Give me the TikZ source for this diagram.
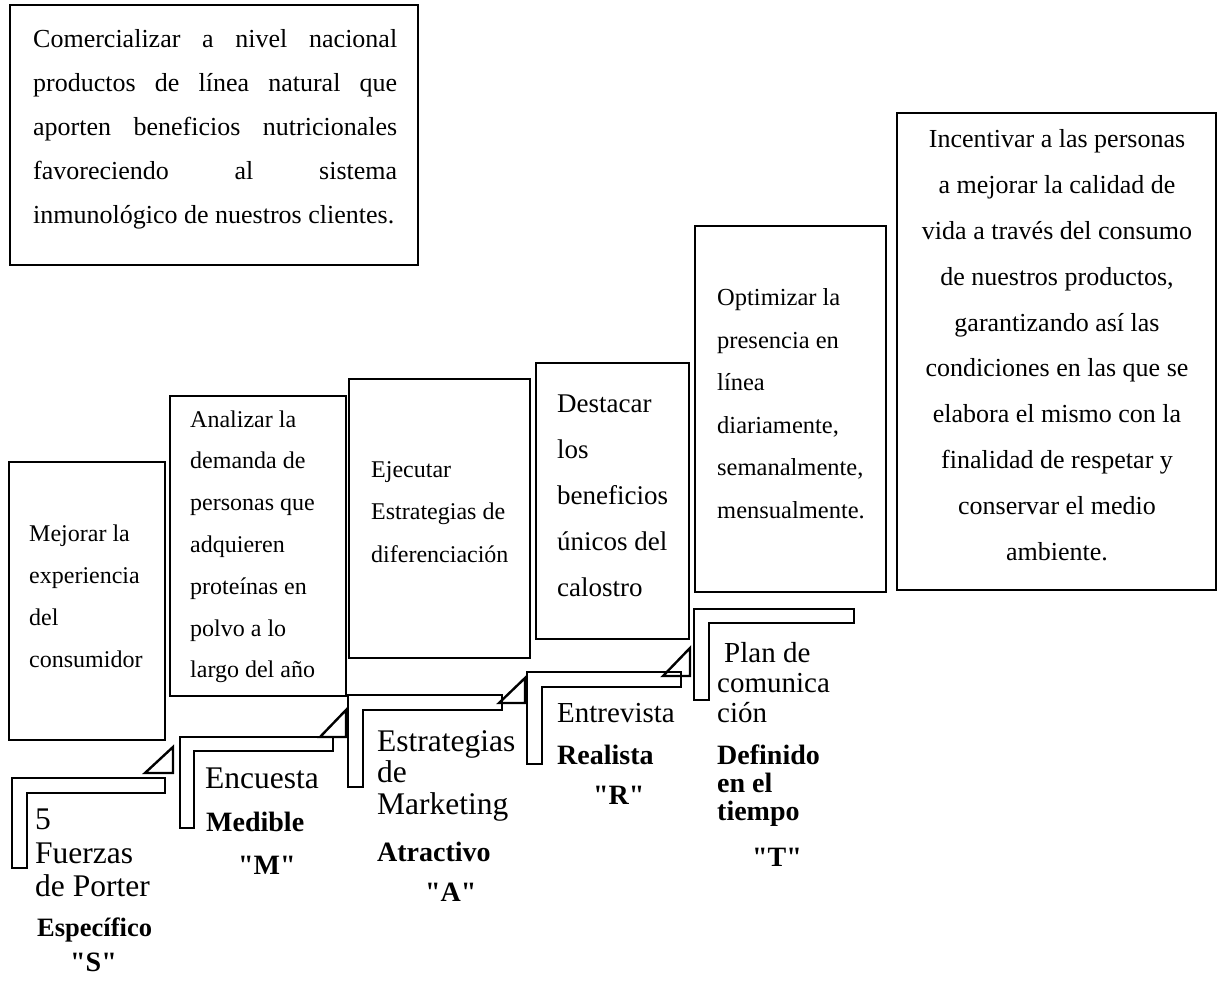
\documentclass[tikz,border=0pt]{standalone}
\usepackage{fontspec}
\setmainfont{Liberation Serif}[Ligatures=TeXOff]
\begin{document}
\begin{tikzpicture}[x=1pt,y=-1pt]
\useasboundingbox[fill=white] (0,0) rectangle (1218,981);
\tikzset{
  box/.style={draw, line width=2pt, anchor=north west, inner sep=0pt, outer sep=0pt},
  band/.style={draw, line width=2.4pt, line join=miter},
  ln/.style={anchor=base west, inner sep=0pt},
  lnc/.style={anchor=base, inner sep=0pt},
  fa/.style={font=\fontsize{26}{30}\selectfont},
  fd/.style={font=\fontsize{27}{30}\selectfont},
  fb/.style={font=\fontsize{24}{28}\selectfont},
  fo/.style={font=\fontsize{24.5}{28}\selectfont},
  fl/.style={font=\fontsize{31.5}{36}\selectfont},
  fm/.style={font=\fontsize{29}{34}\selectfont},
  fbold/.style={font=\fontsize{28}{32}\selectfont\bfseries},
  fbolds/.style={font=\fontsize{26.5}{30}\selectfont\bfseries},
}
% boxes
\node[box, minimum width=408pt, minimum height=260pt] (goal) at (10,5) {};
\node[box, minimum width=319pt, minimum height=477pt] (vision) at (897,113) {};
\node[box, minimum width=191pt, minimum height=366pt] (bopt) at (695,226) {};
\node[box, minimum width=153pt, minimum height=276pt] (bdes) at (536,363) {};
\node[box, minimum width=181pt, minimum height=279pt] (beje) at (349,379) {};
\node[box, minimum width=176pt, minimum height=300pt] (bana) at (170,396) {};
\node[box, minimum width=156pt, minimum height=278pt] (bmej) at (9,462) {};

% goal text (justified)
\node[ln,fa] (g1) at (33,48) {\makebox[364pt][s]{Comercializar a nivel nacional}};
\node[ln,fa] (g2) at (33,92) {\makebox[364pt][s]{productos de línea natural que}};
\node[ln,fa] (g3) at (33,136) {\makebox[364pt][s]{aporten beneficios nutricionales}};
\node[ln,fa] (g4) at (33,180) {\makebox[364pt][s]{favoreciendo al sistema}};
\node[ln,fa] (g5) at (33,224) {inmunológico de nuestros clientes.};

% vision text (centered)
\foreach \t [count=\i from 0] in {Incentivar a las personas, a mejorar la calidad de, vida a través del consumo, {de nuestros productos,}, garantizando así las, condiciones en las que se, elabora el mismo con la, finalidad de respetar y, conservar el medio, ambiente.}
  \node[lnc,fa] (v\i) at (1057,148+45.8*\i) {\t};

% Mejorar
\foreach \t [count=\i from 0] in {Mejorar la, experiencia, del, consumidor}
  \node[ln,fb] (m\i) at (29,541+42*\i) {\t};
% Analizar
\foreach \t [count=\i from 0] in {Analizar la, demanda de, personas que, adquieren, proteínas en, polvo a lo, largo del año}
  \node[ln,fb] (a\i) at (190,427+41.8*\i) {\t};
% Ejecutar
\foreach \t [count=\i from 0] in {Ejecutar, Estrategias de, diferenciación}
  \node[ln,fb] (e\i) at (371,477+42.5*\i) {\t};
% Destacar
\foreach \t [count=\i from 0] in {Destacar, los, beneficios, únicos del, calostro}
  \node[ln,fd] (d\i) at (557,412+46*\i) {\t};
% Optimizar
\foreach \t [count=\i from 0] in {Optimizar la, presencia en, línea, {diariamente,}, {semanalmente,}, mensualmente.}
  \node[ln,fo] (o\i) at (717,306+42.4*\i) {\t};

% bent arrows
\draw[band] (12,868) -- (12,778) -- (165,778) -- (165,793) -- (27,793) -- (27,868) -- cycle;
\draw[band] (145,773) -- (173,773) -- (173,747) -- cycle;
\draw[band] (180,828) -- (180,737) -- (333,737) -- (333,751) -- (194,751) -- (194,828) -- cycle;
\draw[band] (320,737) -- (346,737) -- (346,710) -- cycle;
\draw[band] (348,787) -- (348,695) -- (502,695) -- (502,710) -- (363,710) -- (363,787) -- cycle;
\draw[band] (499,703) -- (525,703) -- (525,678) -- cycle;
\draw[band] (527,764) -- (527,672) -- (681,672) -- (681,687) -- (542,687) -- (542,764) -- cycle;
\draw[band] (663,676) -- (690,676) -- (690,648) -- cycle;
\draw[band] (694,700) -- (694,609) -- (854,609) -- (854,623) -- (709,623) -- (709,700) -- cycle;

% labels S
\node[ln,fl] (s1) at (35,829) {5};
\node[ln,fl] (s2) at (35,863) {Fuerzas};
\node[ln,fl] (s3) at (35,896) {de Porter};
\node[ln,fbolds] (s4) at (37,936) {Específico};
\node[ln,fbold] (s5) at (70,971) {"S"};
% labels M
\node[ln,fl] (m1x) at (205,788) {Encuesta};
\node[ln,fbold] (m2x) at (206,831) {Medible};
\node[ln,fbold] (m3x) at (238,874) {"M"};
% labels A
\node[ln,fl] (a1x) at (377,751) {Estrategias};
\node[ln,fl] (a2x) at (377,782) {de};
\node[ln,fl] (a3x) at (377,814) {Marketing};
\node[ln,fbold] (a4x) at (377,861) {Atractivo};
\node[ln,fbold] (a5x) at (425,901) {"A"};
% labels R
\node[ln,fm] (r1x) at (557,722) {Entrevista};
\node[ln,fbold] (r2x) at (557,764) {Realista};
\node[ln,fbold] (r3x) at (593,804) {"R"};
% labels T
\node[ln,fm] (t1x) at (724,662) {Plan de};
\node[ln,fm] (t2x) at (717,692) {comunica};
\node[ln,fm] (t3x) at (717,722) {ción};
\node[ln,fbold] (t4x) at (717,764) {Definido};
\node[ln,fbold] (t5x) at (717,792) {en el};
\node[ln,fbold] (t6x) at (717,820) {tiempo};
\node[ln,fbold] (t7x) at (752,866) {"T"};
\end{tikzpicture}
\end{document}
